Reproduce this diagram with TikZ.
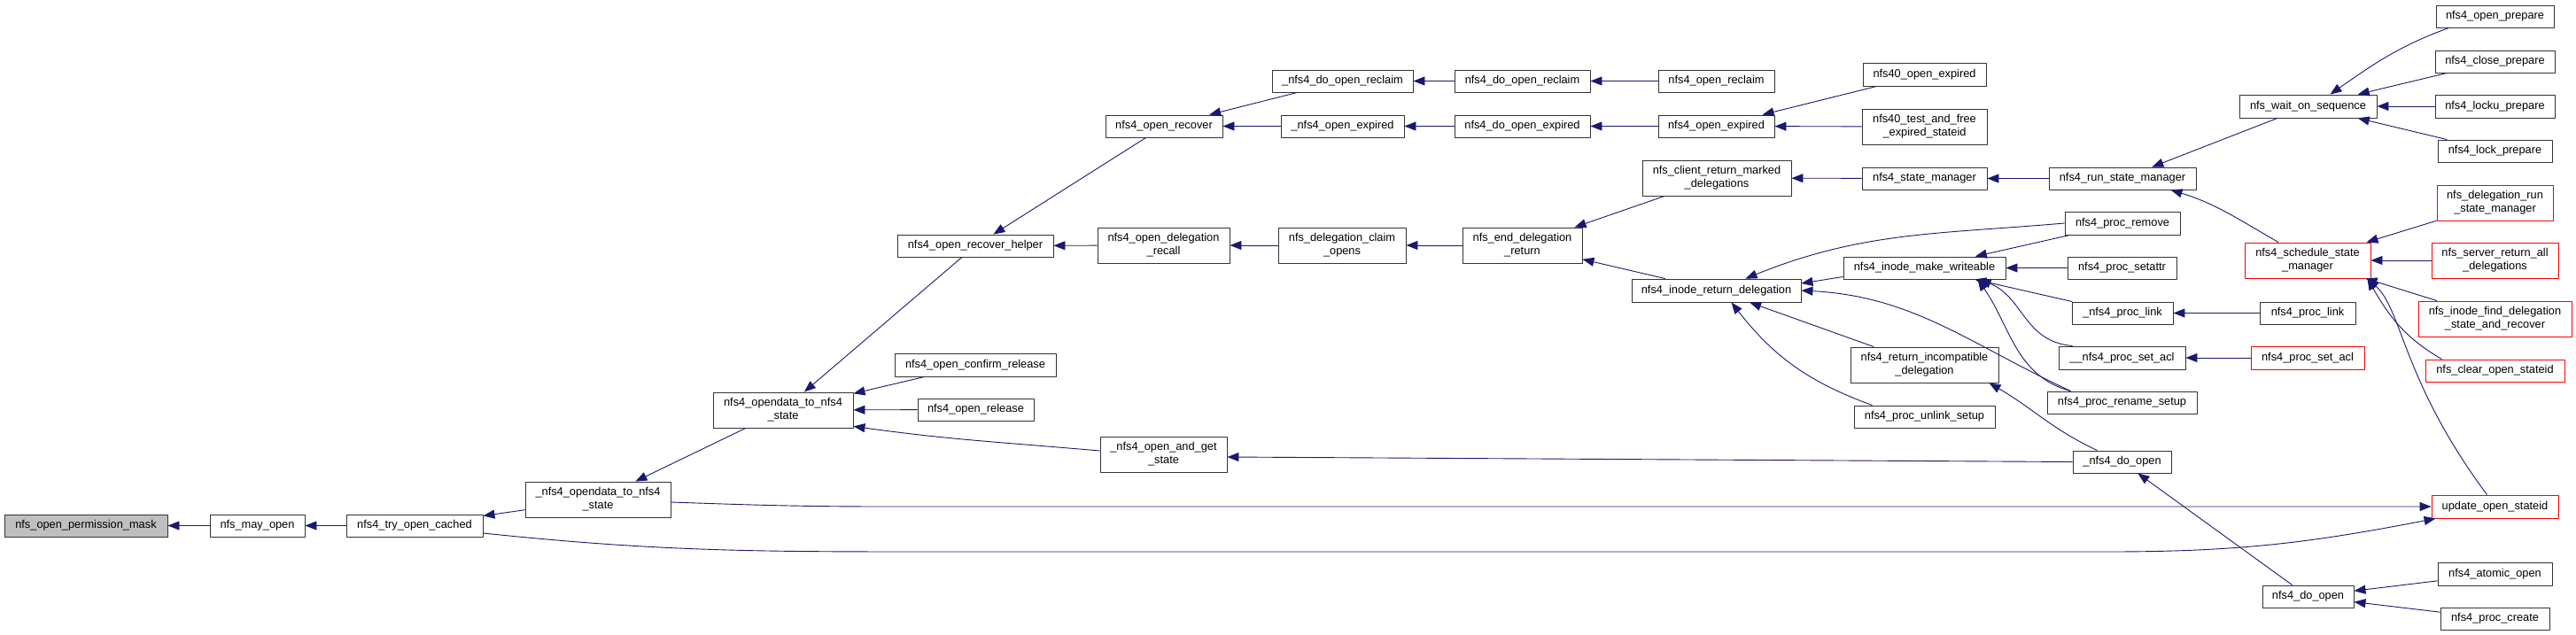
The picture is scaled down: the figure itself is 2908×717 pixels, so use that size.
\documentclass[tikz,border=0pt]{standalone}
\usepackage{fontspec}
\setmainfont{Liberation Sans}
\usetikzlibrary{arrows.meta,calc}
\usetikzlibrary{positioning}
\definecolor{edgeblue}{HTML}{191970}
\definecolor{nodered}{HTML}{FF0000}
\definecolor{curgray}{HTML}{BFBFBF}
\tikzset{fn/.style 2 args={draw=black!80,fill=white,line width=0.9pt,inner sep=0pt,align=center,minimum width=#1pt,minimum height=#2pt},
  fnred/.style 2 args={fn={#1}{#2},draw=nodered},
  fncur/.style 2 args={fn={#1}{#2},fill=curgray},
  call/.style={<-,draw=edgeblue,line width=0.9pt}}

\begin{document}
\begin{tikzpicture}[x=1pt,y=1pt,>={Triangle[length=13pt,width=10pt]},line join=round,font=\fontsize{12.8}{15}\selectfont]
\useasboundingbox (0,0) rectangle (2908,-717);
% --- functions, left to right
\node[fncur={184}{25}] (perm) at (97,-593.5) {nfs\_open\_permission\_mask};
\node[fn={107}{25}] (mayopen) at (290.5,-593.5) {nfs\_may\_open};
\node[fn={154}{25}] (trycached) at (468,-593.5) {nfs4\_try\_open\_cached};
\node[fn={164}{40}] (uodata) at (675,-564) {\_nfs4\_opendata\_to\_nfs4\\\_state};
\node[fn={158}{40}] (odata) at (884,-463) {nfs4\_opendata\_to\_nfs4\\\_state};
\node[fn={176}{25}] (rechelper) at (1101,-277.5) {nfs4\_open\_recover\_helper};
\node[fn={182}{26}] (confrel) at (1101,-412) {nfs4\_open\_confirm\_release};
\node[fn={131}{25}] (openrel) at (1101.5,-462.5) {nfs4\_open\_release};
\node[fn={143}{40}] (andget) at (1313.5,-513) {\_nfs4\_open\_and\_get\\\_state};
\node[fn={132}{25}] (recover) at (1314,-142.5) {nfs4\_open\_recover};
\node[fn={149}{40}] (delrecall) at (1313.5,-277) {nfs4\_open\_delegation\\\_recall};
\node[fn={159}{25}] (udoreclaim) at (1515.5,-91.5) {\_nfs4\_do\_open\_reclaim};
\node[fn={139}{25}] (uexpired) at (1515.5,-142.5) {\_nfs4\_open\_expired};
\node[fn={144}{40}] (claimopens) at (1515,-277) {nfs\_delegation\_claim\\\_opens};
\node[fn={153}{25}] (doreclaim) at (1718.5,-91.5) {nfs4\_do\_open\_reclaim};
\node[fn={153}{25}] (doexpired) at (1718.5,-142.5) {nfs4\_do\_open\_expired};
\node[fn={135}{40}] (enddeleg) at (1718.5,-277) {nfs\_end\_delegation\\\_return};
\node[fn={131}{25}] (openreclaim) at (1937.5,-91.5) {nfs4\_open\_reclaim};
\node[fn={131}{25}] (openexpired) at (1937.5,-142.5) {nfs4\_open\_expired};
\node[fn={168}{40}] (marked) at (1938,-201) {nfs\_client\_return\_marked\\\_delegations};
\node[fn={191}{26}] (inoderet) at (1937.5,-328) {nfs4\_inode\_return\_delegation};
\node[fn={139}{26}] (o40exp) at (2172.5,-84) {nfs40\_open\_expired};
\node[fn={141}{40}] (o40test) at (2172.5,-143) {nfs40\_test\_and\_free\\\_expired\_stateid};
\node[fn={141}{25}] (statemgr) at (2172.5,-201.5) {nfs4\_state\_manager};
\node[fn={183}{25}] (makewr) at (2172.5,-302.5) {nfs4\_inode\_make\_writeable};
\node[fn={167}{40}] (retincomp) at (2172.5,-412) {nfs4\_return\_incompatible\\\_delegation};
\node[fn={159}{25}] (unlinksetup) at (2172.5,-470.5) {nfs4\_proc\_unlink\_setup};
\node[fn={166}{25}] (runsm) at (2396,-201.5) {nfs4\_run\_state\_manager};
\node[fn={130}{26}] (procremove) at (2396,-252) {nfs4\_proc\_remove};
\node[fn={123}{25}] (setattr) at (2395.5,-302.5) {nfs4\_proc\_setattr};
\node[fn={114}{25}] (uproclink) at (2396,-353.5) {\_nfs4\_proc\_link};
\node[fn={143}{26}] (usetacl) at (2395.5,-404) {\_\_nfs4\_proc\_set\_acl};
\node[fn={169}{25}] (renamesetup) at (2395.5,-454.5) {nfs4\_proc\_rename\_setup};
\node[fn={111}{25}] (udoopen) at (2395.5,-521.5) {\_nfs4\_do\_open};
\node[fn={155}{26}] (waitseq) at (2605.5,-120) {nfs\_wait\_on\_sequence};
\node[fnred={142}{40}] (schedsm) at (2605,-294) {nfs4\_schedule\_state\\\_manager};
\node[fn={108}{25}] (proclink) at (2605,-353.5) {nfs4\_proc\_link};
\node[fnred={128}{26}] (setacl) at (2605,-404) {nfs4\_proc\_set\_acl};
\node[fn={103}{25}] (doopen) at (2605.5,-673.5) {nfs4\_do\_open};
\node[fn={133}{25}] (openprep) at (2816.5,-18.5) {nfs4\_open\_prepare};
\node[fn={135}{25}] (closeprep) at (2816.5,-69.5) {nfs4\_close\_prepare};
\node[fn={135}{26}] (lockuprep) at (2816.5,-120) {nfs4\_locku\_prepare};
\node[fn={129}{25}] (lockprep) at (2816.5,-170.5) {nfs4\_lock\_prepare};
\node[fnred={131}{40}] (delrunsm) at (2816.5,-229) {nfs\_delegation\_run\\\_state\_manager};
\node[fnred={143}{40}] (srvretall) at (2816.5,-294) {nfs\_server\_return\_all\\\_delegations};
\node[fnred={173}{40}] (findleg) at (2816.5,-360) {nfs\_inode\_find\_delegation\\\_state\_and\_recover};
\node[fnred={157}{25}] (clearstid) at (2816.5,-418.5) {nfs\_clear\_open\_stateid};
\node[fnred={143}{26}] (updstid) at (2816.5,-572) {update\_open\_stateid};
\node[fn={129}{26}] (atomicopen) at (2816.5,-648) {nfs4\_atomic\_open};
\node[fn={123}{25}] (proccreate) at (2816.5,-698.5) {nfs4\_proc\_create};
% --- calls, arrow head at the callee
\draw[call] (perm) -- (mayopen);
\draw[call] (mayopen) -- (trycached);
\draw[call] (trycached) -- (uodata);
\draw[call] (uodata) -- (odata);
\draw[call] (odata) -- (rechelper);
\draw[call] (odata) -- (confrel);
\draw[call] (odata) -- (openrel);
\draw[call] (odata.-13) to[out=-8,in=175] ([yshift=4pt]andget.west);
\draw[call] (rechelper) -- (recover);
\draw[call] (rechelper) -- (delrecall);
\draw[call] (recover) -- (udoreclaim);
\draw[call] (recover) -- (uexpired);
\draw[call] (udoreclaim) -- (doreclaim);
\draw[call] (doreclaim) -- (openreclaim);
\draw[call] (uexpired) -- (doexpired);
\draw[call] (doexpired) -- (openexpired);
\draw[call] (openexpired) -- (o40exp);
\draw[call] (openexpired) -- (o40test);
\draw[call] (delrecall) -- (claimopens);
\draw[call] (claimopens) -- (enddeleg);
\draw[call] (enddeleg) -- (marked);
\draw[call] (enddeleg) -- (inoderet);
\draw[call] (marked) -- (statemgr);
\draw[call] (statemgr) -- (runsm);
\draw[call] (runsm) -- (waitseq);
\draw[call] ([xshift=-29pt]runsm.south east) to[out=-17,in=150] ([xshift=-33pt]schedsm.north);
\draw[call] ([xshift=25pt]waitseq.north) to[out=35,in=-160] ([xshift=-52pt]openprep.south);
\draw[call] (waitseq) -- (closeprep);
\draw[call] (waitseq) -- (lockuprep);
\draw[call] (waitseq) -- (lockprep);
\draw[call] (schedsm) -- (delrunsm);
\draw[call] (schedsm) -- (srvretall);
\draw[call] (schedsm) -- (findleg);
\draw[call] ([xshift=-4pt]schedsm.south east) to[out=-60,in=150] ([xshift=-60pt]clearstid.north);
\draw[call] ([xshift=-4pt]schedsm.south east) .. controls (2712,-350) and (2712,-430) .. ([xshift=-9pt]updstid.north);
\draw[call] ([xshift=5pt]updstid.south west) to[out=191,in=0] (2380,-623) -- (1050,-623) to[out=180,in=-6] ([yshift=-8.5pt]trycached.east);
\draw[call] (updstid.west) -- (1000,-572) to[out=180,in=-2] ([yshift=-3pt]uodata.east);
\draw[call] ([yshift=-3pt]andget.east) -- (udoopen.west);
\draw[call] ([xshift=-11pt]retincomp.south east) to[out=-30,in=155] ([xshift=-28pt]udoopen.north);
\draw[call] (udoopen) -- (doopen);
\draw[call] (doopen) -- (atomicopen);
\draw[call] (doopen) -- (proccreate);
\draw[call] (uproclink) -- (proclink);
\draw[call] (usetacl) -- (setacl);
\draw[call] ([yshift=8pt]inoderet.east) -- ([yshift=-10pt]makewr.west);
\draw[call] ([xshift=33pt]inoderet.north) to[out=22,in=185] (procremove.west);
\draw[call] (inoderet) -- (retincomp);
\draw[call] ([xshift=17pt]inoderet.south) to[out=-52,in=160] ([xshift=-59pt]unlinksetup.north);
\draw[call] (inoderet.east) to[out=-3,in=155] ([xshift=-58pt]renamesetup.north);
\draw[call] (makewr) -- (procremove);
\draw[call] (makewr) -- (setattr);
\draw[call] (makewr) -- (uproclink);
\draw[call] ([xshift=62pt]makewr.south) .. controls +(50,-20) and +(-55,5) .. ([xshift=-56pt]usetacl.north);
\draw[call] ([xshift=60pt]makewr.south) to[out=-55,in=165] ([xshift=-58pt]renamesetup.north);
\end{tikzpicture}
\end{document}
